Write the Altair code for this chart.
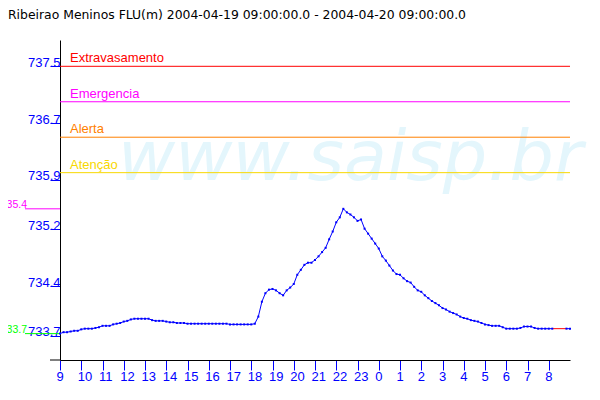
import altair as alt
import pandas as pd
import math

title_text = "Ribeirao Meninos FLU(m) 2004-04-19 09:00:00.0 - 2004-04-20 09:00:00.0"
watermark_text = "www.saisp.br"
start_hour = 9
step_minutes = 10

# water level (m), one reading every 10 minutes from 09:00 to 09:00 next day; None = missing
levels = [
    733.73, 733.75, 733.75, 733.76, 733.77, 733.77,   # 9h
    733.79, 733.80, 733.80, 733.80, 733.81, 733.82,   # 10h
    733.84, 733.84, 733.84, 733.86, 733.87, 733.88,   # 11h
    733.90, 733.91, 733.93, 733.94, 733.94, 733.94,   # 12h
    733.94, 733.94, 733.92, 733.91, 733.91, 733.91,   # 13h
    733.90, 733.89, 733.89, 733.88, 733.88, 733.88,   # 14h
    733.87, 733.87, 733.87, 733.87, 733.87, 733.87,   # 15h
    733.87, 733.87, 733.87, 733.87, 733.87, 733.87,   # 16h
    733.86, 733.86, 733.86, 733.86, 733.86, 733.86,   # 17h
    733.86, 733.87, 733.97, 734.18, 734.30, 734.35,   # 18h
    734.36, 734.34, 734.30, 734.27, 734.34, 734.38,   # 19h
    734.43, 734.56, 734.63, 734.70, 734.73, 734.73,   # 20h
    734.77, 734.82, 734.88, 734.94, 735.06, 735.17,   # 21h
    735.30, 735.37, 735.49, 735.44, 735.41, 735.37,   # 22h
    735.32, 735.34, 735.21, 735.14, 735.07, 735.00,   # 23h
    734.93, 734.82, 734.76, 734.69, 734.62, 734.57,   # 0h
    734.56, 734.51, 734.47, 734.45, 734.39, 734.34,   # 1h
    734.32, 734.27, 734.23, 734.19, 734.16, 734.13,   # 2h
    734.09, 734.07, 734.04, 734.02, 734.00, 733.97,   # 3h
    733.95, 733.94, 733.92, 733.91, 733.90, 733.88,   # 4h
    733.86, 733.85, 733.84, 733.84, 733.84, 733.82,   # 5h
    733.80, 733.80, 733.80, 733.80, 733.81, 733.83,   # 6h
    733.83, 733.83, 733.81, 733.80, 733.80, 733.80,   # 7h
    733.80, 733.80, None, None, None, 733.80,         # 8h
    733.80,                                           # 9h next day
]

y_ticks = [733.7, 734.4, 735.2, 735.9, 736.7, 737.5]
hour_ticks = list(range(24))

threshold_names = ["Extravasamento", "Emergencia", "Alerta", "Atenção"]
threshold_values = [737.5, 737.0, 736.5, 736.0]
threshold_colors = ["#ff0000", "#ff00ff", "#ff8000", "#f8d800"]
extreme_colors = ["#ff00ff", "#00ff00"]  # max, min

BLUE = "#0000ff"
FONT = "Liberation Sans"

# ---- tables built from the arrays ----
rows = []
seg = 0
prev_valid = True
for i, v in enumerate(levels):
    if v is None:
        if prev_valid:
            seg += 1
        prev_valid = False
        continue
    prev_valid = True
    rows.append({"h": i * step_minutes / 60.0, "level": v, "seg": seg})
series = pd.DataFrame(rows)

# segment bridging the missing readings (drawn in red)
gap_rows = []
for i, v in enumerate(levels):
    if v is None and i > 0 and levels[i - 1] is not None:
        j = i
        while j < len(levels) and levels[j] is None:
            j += 1
        gap_rows.append({"h": (i - 1) * step_minutes / 60.0, "level": levels[i - 1], "g": i})
        gap_rows.append({"h": j * step_minutes / 60.0, "level": levels[j], "g": i})
gaps = pd.DataFrame(gap_rows)

thr = pd.DataFrame({"name": threshold_names, "level": threshold_values, "clr": threshold_colors})

valid = [v for v in levels if v is not None]
vmax, vmin = max(valid), min(valid)
extremes = pd.DataFrame({
    "level": [vmax, vmin],
    "label": [f"{math.floor(vmax * 10) / 10:.1f}", f"{math.floor(vmin * 10) / 10:.1f}"],
    "clr": extreme_colors,
})

xscale = alt.Scale(domain=[0, 24], nice=False, zero=False)
yscale = alt.Scale(domain=[733.358, 737.871], nice=False, zero=False)

x_axis = alt.Axis(values=hour_ticks, labelExpr=f"(datum.value + {start_hour}) % 24",
                  title=None, grid=False, domainColor="black", tickColor=BLUE, tickSize=10,
                  labelColor=BLUE, labelFont=FONT, labelFontSize=13, labelAlign="left",
                  labelOffset=-4, labelBaseline="top", labelPadding=0, labelOverlap=False,
                  labelFlush=False)
y_axis = alt.Axis(values=y_ticks, format=".1f", title=None, grid=False, domainColor="black",
                  tickColor=BLUE, tickSize=10, labelColor=BLUE, labelFont=FONT, labelFontSize=13,
                  labelAlign="right", labelBaseline="alphabetic", labelPadding=-10,
                  labelOverlap=False, labelFlush=False)

X = alt.X("h:Q", scale=xscale, axis=x_axis)
Y = alt.Y("level:Q", scale=yscale, axis=y_axis)

one = pd.DataFrame({"t": [title_text], "w": [watermark_text]})

watermark = alt.Chart(one).mark_text(
    font="DejaVu Sans", fontStyle="italic", fontSize=70, color="#e4f6fc",
    align="left", baseline="alphabetic"
).encode(x=alt.value(58), y=alt.value(140), text="w:N")

thr_rules = alt.Chart(thr).mark_rule(strokeWidth=1).encode(
    y=Y, color=alt.Color("clr:N", scale=None),
)
thr_text = alt.Chart(thr).mark_text(
    font=FONT, fontSize=13, align="left", baseline="alphabetic", dy=-4
).encode(
    x=alt.value(10), y=Y, text="name:N", color=alt.Color("clr:N", scale=None),
)

ext_rules = alt.Chart(extremes).mark_rule(strokeWidth=1).encode(
    x=alt.value(-35), x2=alt.value(0), y=Y, color=alt.Color("clr:N", scale=None),
)
ext_text = alt.Chart(extremes).mark_text(
    font=FONT, fontSize=10.5, align="right", baseline="alphabetic", dy=-1
).encode(
    x=alt.value(-33), y=Y, text="label:N", color=alt.Color("clr:N", scale=None),
)

line = alt.Chart(series).mark_line(color=BLUE, strokeWidth=1).encode(
    x=X, y=Y, detail="seg:N",
)
gap_line = alt.Chart(gaps).mark_line(color="#ff0000", strokeWidth=1).encode(
    x=X, y=Y, detail="g:N",
)
points = alt.Chart(series).mark_square(size=4, color=BLUE, opacity=1, filled=True).encode(
    x=X, y=Y,
)

title = alt.Chart(one).mark_text(
    font="DejaVu Sans", fontSize=12.4, color="black", align="left", baseline="alphabetic"
).encode(x=alt.value(-52), y=alt.value(-21), text="t:N")

axis_ext = alt.Chart(one).mark_rule(color="black", strokeWidth=1).encode(
    x=alt.value(-10), x2=alt.value(0), y=alt.value(320)
)

chart = alt.layer(
    watermark, thr_rules, thr_text, ext_rules, ext_text, line, gap_line, points, title, axis_ext
).properties(
    width=510, height=320,
    autosize=alt.AutoSizeParams(type="none"),
    padding={"left": 52, "top": 32, "right": 20, "bottom": 30},
    background="white",
).configure_view(stroke=None)

chart.save("out.html", embed_options={"renderer": "svg", "actions": False})
